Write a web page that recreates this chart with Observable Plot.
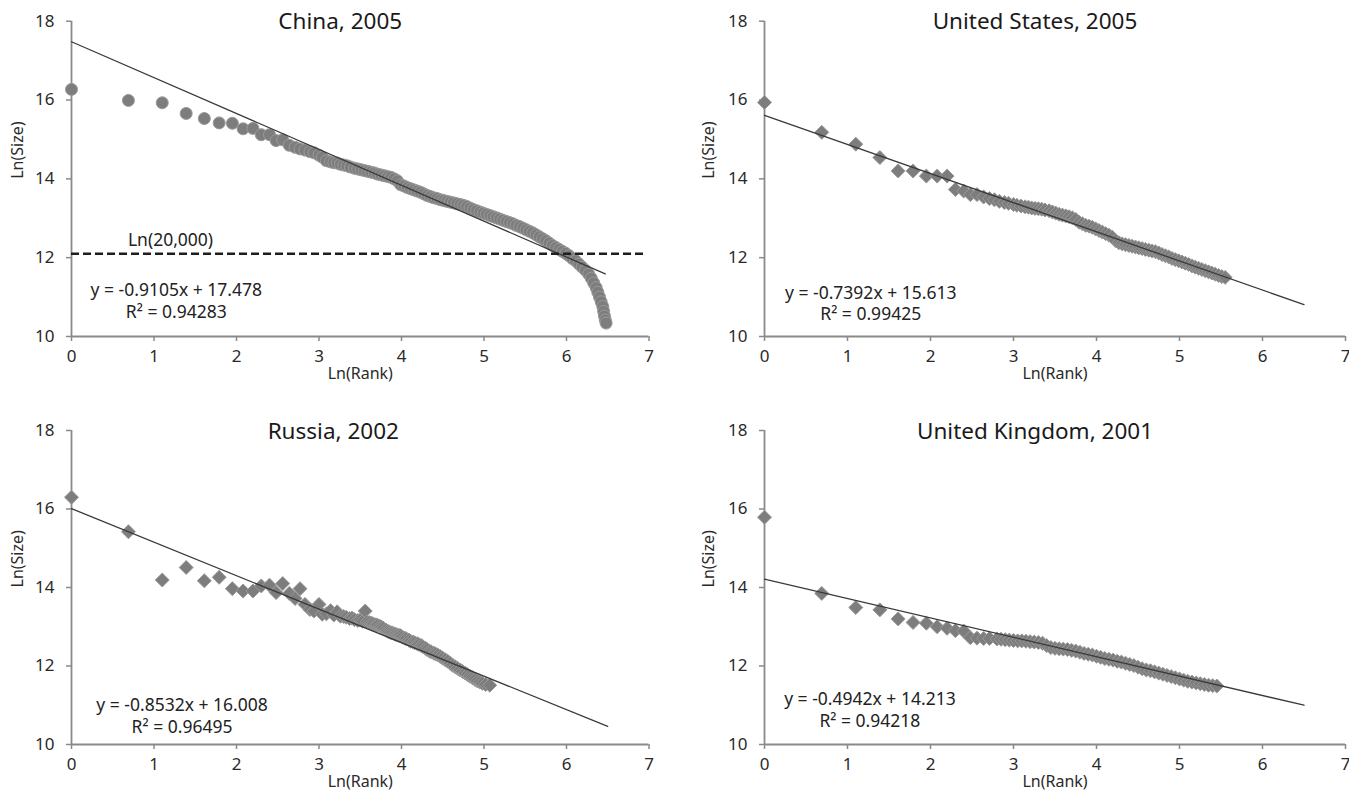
<!DOCTYPE html>
<html><head><meta charset="utf-8">
<script src="https://cdn.jsdelivr.net/npm/d3@7"></script>
<script src="https://cdn.jsdelivr.net/npm/@observablehq/plot@0.6"></script>
<style>
body{margin:0;background:#fff;font-family:"Noto Sans",sans-serif;}
#wrap{position:relative;width:1349px;height:801px;overflow:hidden;}
.panel{position:absolute;}
</style></head><body><div id="wrap"></div>
<script>
// ---------- data ----------
const titles = ["China, 2005", "United States, 2005", "Russia, 2002", "United Kingdom, 2001"];
const slopes = [-0.9105, -0.7392, -0.8532, -0.4942];
const intercepts = [17.478, 15.613, 16.008, 14.213];
const r2 = ["0.94283", "0.99425", "0.96495", "0.94218"];
const fitEnd = [6.47, 6.5, 6.5, 6.5];
const xTicks = [0, 1, 2, 3, 4, 5, 6, 7];
const yTicks = [10, 12, 14, 16, 18];
const thresholdY = [12.1];
const thresholdLabel = "Ln(20,000)";

const chinaX = [0, 0.69, 1.10, 1.39, 1.61, 1.79, 1.95, 2.08, 2.20, 2.30, 2.40, 2.48, 2.56, 2.64, 2.71, 2.77,
  2.83, 2.89, 2.94, 3.00, 3.04, 3.09, 3.14, 3.18, 3.22, 3.26, 3.30, 3.34, 3.38, 3.43, 3.47, 3.51, 3.55, 3.59, 3.63, 3.67,
  3.71, 3.75, 3.79, 3.83, 3.87, 3.91, 3.95, 3.99, 4.03, 4.07, 4.11, 4.15, 4.19, 4.23, 4.27, 4.31, 4.35, 4.39, 4.43, 4.47,
  4.51, 4.55, 4.59, 4.63, 4.67, 4.71, 4.75, 4.79, 4.83, 4.87, 4.91, 4.95, 4.99, 5.03, 5.07, 5.11, 5.15, 5.19, 5.23, 5.27,
  5.31, 5.35, 5.39, 5.43, 5.47, 5.51, 5.55, 5.59, 5.63, 5.67, 5.71, 5.75, 5.79, 5.83, 5.87, 5.91, 5.95, 5.99, 6.03, 6.07,
  6.11, 6.15, 6.19, 6.23, 6.27, 6.30, 6.33, 6.36, 6.38, 6.40, 6.42, 6.44, 6.45, 6.46, 6.47, 6.48];
const chinaY = [16.27, 15.99, 15.93, 15.66, 15.53, 15.42, 15.41, 15.27, 15.28, 15.12, 15.12, 14.97, 14.99, 14.85, 14.80, 14.76,
  14.73, 14.69, 14.66, 14.60, 14.55, 14.46, 14.43, 14.41, 14.40, 14.37, 14.35, 14.33, 14.30, 14.27, 14.25, 14.23, 14.21, 14.19, 14.17, 14.15,
  14.12, 14.10, 14.08, 14.06, 14.04, 14.00, 13.95, 13.85, 13.82, 13.78, 13.75, 13.72, 13.69, 13.66, 13.62, 13.58, 13.55, 13.52, 13.50, 13.47,
  13.45, 13.43, 13.41, 13.39, 13.37, 13.35, 13.33, 13.30, 13.26, 13.22, 13.19, 13.16, 13.13, 13.10, 13.07, 13.04, 13.01, 12.98, 12.95, 12.92,
  12.89, 12.86, 12.82, 12.79, 12.75, 12.71, 12.67, 12.63, 12.58, 12.53, 12.48, 12.43, 12.37, 12.31, 12.26, 12.21, 12.16, 12.11, 12.05, 11.98,
  11.92, 11.84, 11.76, 11.68, 11.58, 11.48, 11.36, 11.24, 11.12, 11.00, 10.88, 10.76, 10.64, 10.52, 10.42, 10.34];

const usX = [0, 0.69, 1.10, 1.39, 1.61, 1.79, 1.95, 2.08, 2.20, 2.30, 2.40, 2.48, 2.56, 2.64, 2.71,
  2.77, 2.83, 2.89, 2.94, 3.00, 3.04, 3.09, 3.14, 3.18, 3.22, 3.26, 3.30, 3.34, 3.38, 3.43, 3.47, 3.51, 3.55, 3.59, 3.63,
  3.67, 3.71, 3.75, 3.79, 3.83, 3.87, 3.91, 3.95, 3.99, 4.03, 4.07, 4.11, 4.15, 4.19, 4.23, 4.27, 4.31, 4.35, 4.39, 4.43,
  4.47, 4.51, 4.55, 4.59, 4.63, 4.67, 4.71, 4.75, 4.79, 4.83, 4.87, 4.91, 4.95, 4.99, 5.03, 5.07, 5.11, 5.15, 5.19, 5.23,
  5.27, 5.31, 5.35, 5.39, 5.43, 5.47, 5.51, 5.55];
const usY = [15.94, 15.18, 14.88, 14.54, 14.20, 14.20, 14.07, 14.07, 14.07, 13.73, 13.69, 13.60, 13.60, 13.54, 13.50,
  13.47, 13.43, 13.40, 13.38, 13.35, 13.33, 13.31, 13.29, 13.28, 13.26, 13.25, 13.24, 13.23, 13.21, 13.19, 13.16, 13.13, 13.10, 13.08, 13.06,
  13.04, 13.01, 12.97, 12.90, 12.86, 12.82, 12.80, 12.77, 12.73, 12.69, 12.65, 12.61, 12.57, 12.52, 12.43, 12.38, 12.35, 12.33, 12.31, 12.29,
  12.27, 12.25, 12.23, 12.21, 12.19, 12.17, 12.15, 12.12, 12.08, 12.05, 12.02, 11.98, 11.95, 11.92, 11.89, 11.86, 11.83, 11.79, 11.76, 11.73,
  11.70, 11.67, 11.64, 11.61, 11.58, 11.55, 11.52, 11.50];

const russiaX = [0, 0.69, 1.10, 1.39, 1.61, 1.79, 1.95, 2.08, 2.20, 2.30, 2.40, 2.48, 2.56, 2.64, 2.71, 2.77,
  2.83, 2.89, 2.94, 3.00, 3.04, 3.09, 3.14, 3.18, 3.22, 3.26, 3.30, 3.33, 3.37, 3.40, 3.43, 3.47, 3.50, 3.53, 3.56, 3.58,
  3.61, 3.64, 3.66, 3.69, 3.71, 3.74, 3.76, 3.78, 3.81, 3.83, 3.85, 3.87, 3.89, 3.91, 3.93, 3.95, 3.97, 3.99, 4.01, 4.04,
  4.06, 4.09, 4.11, 4.14, 4.16, 4.19, 4.21, 4.24, 4.26, 4.29, 4.31, 4.34, 4.36, 4.39, 4.41, 4.44, 4.47, 4.50, 4.53, 4.56,
  4.59, 4.62, 4.65, 4.68, 4.71, 4.74, 4.77, 4.80, 4.83, 4.86, 4.89, 4.92, 4.95, 4.98, 5.02, 5.07];
const russiaY = [16.30, 15.42, 14.19, 14.51, 14.17, 14.26, 13.97, 13.91, 13.91, 14.04, 14.06, 13.87, 14.10, 13.85, 13.72, 13.97,
  13.57, 13.44, 13.40, 13.57, 13.32, 13.33, 13.41, 13.30, 13.38, 13.27, 13.26, 13.24, 13.21, 13.22, 13.18, 13.16, 13.17, 13.14, 13.40, 13.12,
  13.11, 13.09, 13.07, 13.05, 13.04, 13.01, 12.99, 12.96, 12.92, 12.89, 12.87, 12.85, 12.84, 12.82, 12.81, 12.79, 12.78, 12.77, 12.74, 12.71,
  12.69, 12.66, 12.63, 12.61, 12.59, 12.57, 12.55, 12.52, 12.49, 12.45, 12.42, 12.38, 12.36, 12.33, 12.31, 12.28, 12.24, 12.20, 12.16, 12.12,
  12.07, 12.02, 11.98, 11.94, 11.90, 11.86, 11.82, 11.78, 11.74, 11.70, 11.66, 11.62, 11.59, 11.56, 11.53, 11.51];

const ukX = [0, 0.69, 1.10, 1.39, 1.61, 1.79, 1.95, 2.08, 2.20, 2.30, 2.40, 2.48, 2.56, 2.64, 2.71,
  2.80, 2.85, 2.90, 2.95, 3.00, 3.05, 3.10, 3.15, 3.20, 3.25, 3.30, 3.35, 3.40, 3.45, 3.50, 3.55, 3.60, 3.65, 3.70, 3.75,
  3.80, 3.85, 3.90, 3.95, 4.00, 4.05, 4.10, 4.15, 4.20, 4.25, 4.30, 4.35, 4.40, 4.45, 4.50, 4.55, 4.60, 4.65, 4.70, 4.75,
  4.80, 4.85, 4.90, 4.95, 5.00, 5.05, 5.10, 5.15, 5.20, 5.25, 5.30, 5.35, 5.40, 5.45];
const ukY = [15.79, 13.85, 13.49, 13.43, 13.20, 13.11, 13.09, 13.00, 12.96, 12.90, 12.89, 12.72, 12.71, 12.70, 12.70,
  12.69, 12.68, 12.67, 12.66, 12.65, 12.64, 12.64, 12.63, 12.62, 12.61, 12.60, 12.58, 12.52, 12.47, 12.45, 12.44, 12.43, 12.42, 12.40, 12.38,
  12.35, 12.32, 12.30, 12.28, 12.25, 12.22, 12.19, 12.17, 12.15, 12.12, 12.10, 12.07, 12.04, 12.01, 11.97, 11.93, 11.90, 11.88, 11.85, 11.82,
  11.79, 11.76, 11.73, 11.70, 11.67, 11.64, 11.61, 11.59, 11.57, 11.55, 11.53, 11.51, 11.50, 11.49];

// ---------- layout ----------
const layout = [
  {left: 0,   top: 0,   width: 674, height: 400, mt: 20.7, mb: 64, ml: 71, mr: 25.5, titleDx: -20, ylabDx: -54, eq: [1.27, 11.17, 10.61], symbol: "circle"},
  {left: 680, top: 0,   width: 669, height: 400, mt: 20.7, mb: 64, ml: 84, mr: 4,    titleDx: -20, ylabDx: -56, eq: [1.28, 11.10, 10.55], symbol: "diamond2"},
  {left: 0,   top: 400, width: 674, height: 401, mt: 30,   mb: 57, ml: 71, mr: 25.5, titleDx: -27, ylabDx: -54, eq: [1.34, 11.00, 10.44], symbol: "diamond2"},
  {left: 680, top: 400, width: 669, height: 401, mt: 30,   mb: 57, ml: 84, mr: 4,    titleDx: -20, ylabDx: -56, eq: [1.27, 11.15, 10.58], symbol: "diamond2"}
];
const series = [[chinaX, chinaY], [usX, usY], [russiaX, russiaY], [ukX, ukY]];

const wrap = document.getElementById("wrap");
const axisGray = "#8a8a8a";
const textDark = "#2a2a2a";

series.forEach(([xs, ys], i) => {
  const L = layout[i];
  const pts = xs.map((x, j) => ({x, y: ys[j]}));
  const m = slopes[i], b = intercepts[i];
  const fit = [{x: 0, y: b}, {x: fitEnd[i], y: b + m * fitEnd[i]}];
  const marks = [
    Plot.axisX({ticks: xTicks, tickSize: 5, stroke: axisGray, strokeWidth: 1.5, label: null, tickFormat: () => ""}),
    Plot.axisY({ticks: yTicks, tickSize: 5, stroke: axisGray, strokeWidth: 1.5, label: null, tickFormat: () => ""}),
    Plot.text(xTicks, {x: d => d, y: () => 10, dy: 20, text: d => String(d), fontSize: 17, fill: textDark}),
    Plot.text(yTicks, {x: () => 0, y: d => d, dx: -17, text: d => String(d), textAnchor: "end", fontSize: 17, fill: textDark}),
    Plot.ruleX([0], {stroke: axisGray, strokeWidth: 1.8}),
    Plot.ruleY([10], {stroke: axisGray, strokeWidth: 1.8}),
    Plot.dot(pts, {x: "x", y: "y", r: L.symbol === "circle" ? 6 : 6.3, symbol: L.symbol, fill: "#7d7d7d", stroke: "#9a9a9a", strokeWidth: 1}),
    Plot.line(fit, {x: "x", y: "y", stroke: "#3a3a3a", strokeWidth: 1.3}),
    Plot.text([`y = ${m.toFixed(4)}x + ${b.toFixed(3)}`], {x: [L.eq[0]], y: [L.eq[1]], fontSize: 17.5, fill: "#222"}),
    Plot.text([`R² = ${r2[i]}`], {x: [L.eq[0]], y: [L.eq[2]], fontSize: 17.5, fill: "#222"}),
    Plot.text([titles[i]], {frameAnchor: "top", dx: L.titleDx, dy: 1, lineAnchor: "middle", fontSize: 22.5, fill: "#1a1a1a"}),
    Plot.text(["Ln(Size)"], {frameAnchor: "left", dx: L.ylabDx, rotate: -90, fontSize: 16, fill: textDark}),
    Plot.text(["Ln(Rank)"], {frameAnchor: "bottom", dy: 42, fontSize: 16, fill: textDark})
  ];
  if (i === 0) {
    marks.push(Plot.ruleY(thresholdY, {x1: 0, x2: 6.95, stroke: "#1e1e1e", strokeWidth: 2.6, strokeDasharray: "8,4"}));
    marks.push(Plot.text([thresholdLabel], {x: [1.2], y: [12.43], fontSize: 17.5, fill: "#222"}));
  }
  const svg = Plot.plot({
    width: L.width, height: L.height,
    marginTop: L.mt, marginBottom: L.mb, marginLeft: L.ml, marginRight: L.mr,
    x: {domain: [0, 7]},
    y: {domain: [10, 18]},
    style: {fontFamily: "'Noto Sans', sans-serif", fontSize: "16px", color: "#333", background: "transparent", overflow: "visible"},
    marks
  });
  const div = document.createElement("div");
  div.className = "panel";
  div.style.left = L.left + "px";
  div.style.top = L.top + "px";
  div.appendChild(svg);
  wrap.appendChild(div);
});
</script>
</body></html>
